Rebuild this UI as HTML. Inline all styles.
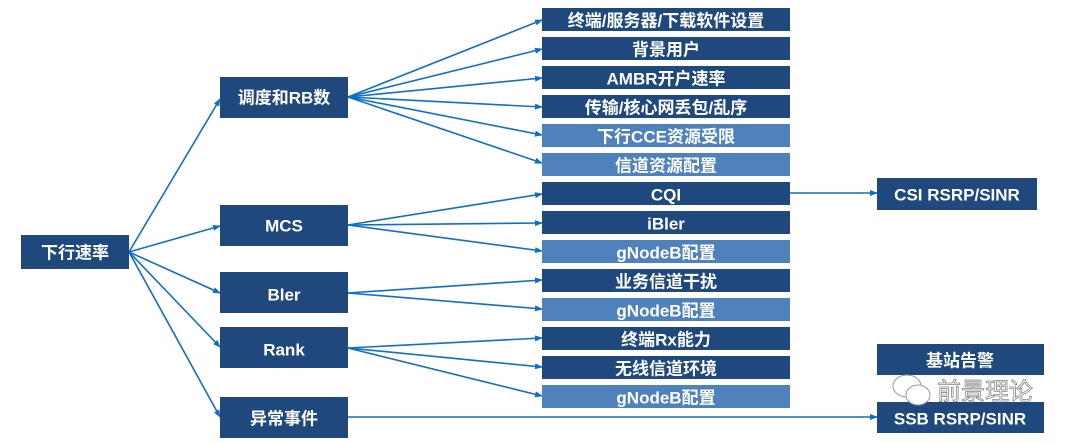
<!DOCTYPE html>
<html><head><meta charset="utf-8"><style>
html,body{margin:0;padding:0;background:#fff;}
svg{display:block;}
text{font-family:"Liberation Sans","Noto Sans CJK SC",sans-serif;font-weight:bold;fill:#fff;text-anchor:middle;dominant-baseline:central;}
</style></head><body>
<svg width="1080" height="443" viewBox="0 0 1080 443" xmlns="http://www.w3.org/2000/svg">
<defs><marker id="a" markerWidth="8" markerHeight="8" refX="7" refY="4" orient="auto" markerUnits="userSpaceOnUse"><path d="M0,1 L8,4 L0,7 z" fill="#0f6fc6"/></marker></defs>
<g stroke="#0f6fc6" stroke-width="1.6" fill="none" marker-end="url(#a)">
<line x1="129" y1="252" x2="220" y2="99"/>
<line x1="129" y1="252" x2="220" y2="226"/>
<line x1="129" y1="252" x2="220" y2="293"/>
<line x1="129" y1="252" x2="220" y2="347"/>
<line x1="129" y1="252" x2="220" y2="417"/>
<line x1="348" y1="97" x2="542" y2="20"/>
<line x1="348" y1="97" x2="542" y2="49"/>
<line x1="348" y1="97" x2="542" y2="78"/>
<line x1="348" y1="97" x2="542" y2="107"/>
<line x1="348" y1="97" x2="542" y2="135"/>
<line x1="348" y1="97" x2="542" y2="163"/>
<line x1="348" y1="225" x2="542" y2="194"/>
<line x1="348" y1="225" x2="542" y2="223"/>
<line x1="348" y1="225" x2="542" y2="251"/>
<line x1="348" y1="293" x2="542" y2="280"/>
<line x1="348" y1="293" x2="542" y2="309"/>
<line x1="348" y1="348" x2="542" y2="338"/>
<line x1="348" y1="348" x2="542" y2="367"/>
<line x1="348" y1="348" x2="542" y2="396"/>
<line x1="348" y1="417" x2="877" y2="417"/>
<line x1="790" y1="193" x2="877" y2="193"/>
</g>
<g fill="#1f497d">
<rect x="21" y="235" width="108" height="34"/>
<rect x="220" y="77" width="128" height="41"/>
<rect x="220" y="205" width="128" height="41"/>
<rect x="220" y="272" width="128" height="41"/>
<rect x="220" y="327" width="128" height="41"/>
<rect x="220" y="397" width="128" height="41"/>
<rect x="877" y="178" width="160" height="32"/>
<rect x="877" y="344" width="167" height="31"/>
<rect x="877" y="402" width="167" height="31"/>
</g>
<g style="font-size:17px">
<text x="75" y="253">下行速率</text>
<text x="284" y="98">调度和RB数</text>
<text x="284" y="226">MCS</text>
<text x="284" y="295">Bler</text>
<text x="284" y="350">Rank</text>
<text x="284" y="419">异常事件</text>
<text x="957" y="195">CSI RSRP/SINR</text>
<text x="960" y="361">基站告警</text>
<text x="960" y="419">SSB RSRP/SINR</text>
</g>
<g style="font-size:17px">
<rect x="542" y="8" width="248" height="23" fill="#1f497d"/><text x="666" y="21">终端/服务器/下载软件设置</text>
<rect x="542" y="37" width="248" height="23" fill="#1f497d"/><text x="666" y="50">背景用户</text>
<rect x="542" y="66" width="248" height="23" fill="#1f497d"/><text x="666" y="79">AMBR开户速率</text>
<rect x="542" y="95" width="248" height="23" fill="#1f497d"/><text x="666" y="108">传输/核心网丢包/乱序</text>
<rect x="542" y="124" width="248" height="23" fill="#4f81bd"/><text x="666" y="137">下行CCE资源受限</text>
<rect x="542" y="153" width="248" height="23" fill="#4f81bd"/><text x="666" y="166">信道资源配置</text>
<rect x="542" y="182" width="248" height="23" fill="#1f497d"/><text x="666" y="195">CQI</text>
<rect x="542" y="211" width="248" height="23" fill="#1f497d"/><text x="666" y="224">iBler</text>
<rect x="542" y="240" width="248" height="23" fill="#4f81bd"/><text x="666" y="253">gNodeB配置</text>
<rect x="542" y="269" width="248" height="23" fill="#1f497d"/><text x="666" y="282">业务信道干扰</text>
<rect x="542" y="298" width="248" height="23" fill="#4f81bd"/><text x="666" y="311">gNodeB配置</text>
<rect x="542" y="327" width="248" height="23" fill="#1f497d"/><text x="666" y="340">终端Rx能力</text>
<rect x="542" y="356" width="248" height="23" fill="#1f497d"/><text x="666" y="369">无线信道环境</text>
<rect x="542" y="385" width="248" height="23" fill="#4f81bd"/><text x="666" y="398">gNodeB配置</text>
</g>
<g>
<ellipse cx="907" cy="386" rx="14" ry="11" fill="#fff" stroke="#999" stroke-width="1"/>
<ellipse cx="918" cy="395" rx="12" ry="10" fill="#fff" stroke="#999" stroke-width="1"/>
<text x="985" y="392" style="font-size:24px;font-weight:normal;fill:#fff;stroke:#888;stroke-width:0.8">前景理论</text>
</g>
</svg>
</body></html>
